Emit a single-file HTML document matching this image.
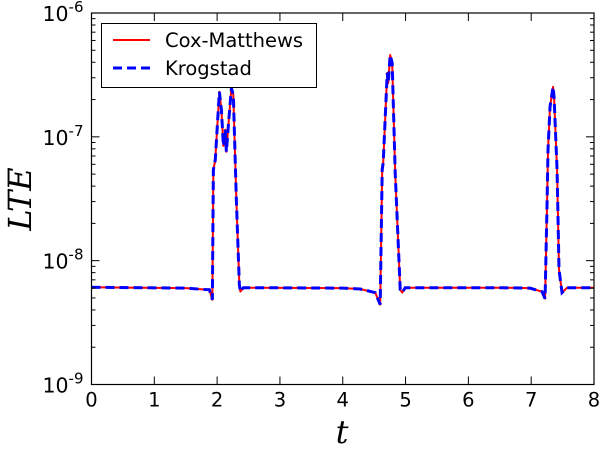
<!DOCTYPE html>
<html><head><meta charset="utf-8"><style>
body{margin:0;background:#fff;}
svg{display:block;font-family:"DejaVu Sans","Liberation Sans",sans-serif;}
</style></head><body>
<svg id="chart" width="600" height="450" viewBox="0 0 600 450" xmlns="http://www.w3.org/2000/svg">
<g id="plot"></g>
</svg>
<script>
const tValues = [0,1.5,1.8,1.877,1.924,1.94,1.97,2.036,2.068,2.1,2.13,2.147,2.18,2.227,2.258,2.306,2.354,2.37,2.417,2.6,4.0,4.278,4.517,4.596,4.628,4.644,4.708,4.724,4.755,4.787,4.835,4.915,4.946,4.994,6.5,6.982,7.173,7.221,7.253,7.268,7.3,7.348,7.364,7.412,7.443,7.491,7.571,8];
const coxMatthews = [6.1e-9,6.0e-9,5.85e-9,5.83e-9,4.84e-9,5.42e-8,6.46e-8,2.31e-7,1.65e-7,8.45e-8,1.14e-7,7.57e-8,1.25e-7,2.48e-7,2.18e-7,3.1e-8,6.4e-9,5.62e-9,6.05e-9,6.05e-9,6.0e-9,5.9e-9,5.52e-9,4.42e-9,5.42e-8,6.17e-8,3.28e-7,2.72e-7,4.58e-7,3.95e-7,5.13e-8,5.83e-9,5.52e-9,6.05e-9,6.05e-9,6.0e-9,5.62e-9,4.94e-9,2.94e-8,7.85e-8,1.75e-7,2.53e-7,2.1e-7,5.42e-8,8.45e-9,5.52e-9,6.05e-9,6.05e-9];
const krogstad = coxMatthews.slice();
const xTicks = [0,1,2,3,4,5,6,7,8];
const yTickExps = [-9,-8,-7,-6];

const L=91.5,R=594,T=13,B=384.5;
const xScale=t=>L+(t-0)/(8-0)*(R-L);
const yScale=v=>B-(Math.log10(v)+9)/3*(B-T);
const NS="http://www.w3.org/2000/svg";
const svg=document.getElementById('chart');
function mk(tag,attrs,parent){const e=document.createElementNS(NS,tag);for(const k in attrs)e.setAttribute(k,attrs[k]);(parent||svg).appendChild(e);return e;}

function pathOf(vals){return tValues.map((t,i)=>(i?'L':'M')+xScale(t).toFixed(2)+' '+yScale(vals[i]).toFixed(2)).join(' ');}
const red=mk('path',{d:pathOf(coxMatthews),fill:'none',stroke:'#ff0000','stroke-width':2,'stroke-linejoin':'round'});


const blue=mk('path',{d:pathOf(krogstad),fill:'none',stroke:'#0000ff','stroke-width':3,'stroke-dasharray':'9,5'});



const fr=mk('rect',{x:L,y:T,width:R-L,height:B-T,fill:'none',stroke:'#000','stroke-width':1.2});



xTicks.forEach(t=>{
  const x=xScale(t);
  mk('line',{x1:x,x2:x,y1:B,y2:B-8,stroke:'#000'});
  mk('line',{x1:x,x2:x,y1:T,y2:T+8,stroke:'#000'});
  const tx=mk('text',{x:x,y:B+22,'text-anchor':'middle','font-size':19.5});
  tx.textContent=t;
  
  
});
yTickExps.forEach(e=>{
  const y=yScale(Math.pow(10,e));
  mk('line',{x1:L,x2:L+8,y1:y,y2:y,stroke:'#000'});
  mk('line',{x1:R,x2:R-8,y1:y,y2:y,stroke:'#000'});
  if(e<-6){for(let m=2;m<10;m++){const ym=yScale(m*Math.pow(10,e));
    mk('line',{x1:L,x2:L+4,y1:ym,y2:ym,stroke:'#000'});
    mk('line',{x1:R,x2:R-4,y1:ym,y2:ym,stroke:'#000'});}}
  const tx=mk('text',{x:L-8,y:y+8,'text-anchor':'end','font-size':20.5});
  tx.innerHTML='10<tspan dy="-9" font-size="15">'+e+'</tspan>';
  
  
});

const xt=mk('text',{x:342,y:443,'text-anchor':'middle','font-size':32,'font-style':'italic','font-family':'DejaVu Serif, serif'});
xt.textContent='t';


const yt=mk('text',{x:0,y:0,'text-anchor':'middle','font-size':32,'font-style':'italic','font-family':'DejaVu Serif, serif',transform:'translate(31,199) rotate(-90)'});
yt.textContent='LTE';



const lg=mk('g',{});


mk('rect',{x:101.5,y:23.5,width:215,height:64,fill:'#fff',stroke:'#000','stroke-width':1},lg);
mk('line',{x1:113,x2:150,y1:40,y2:40,stroke:'#ff0000','stroke-width':2},lg);
mk('line',{x1:113,x2:150,y1:68,y2:68,stroke:'#0000ff','stroke-width':3,'stroke-dasharray':'9,5'},lg);
const l1=mk('text',{x:165,y:47,'font-size':19.5},lg);l1.textContent='Cox-Matthews';


const l2=mk('text',{x:165,y:75,'font-size':19.5},lg);l2.textContent='Krogstad';


</script>
</body></html>
